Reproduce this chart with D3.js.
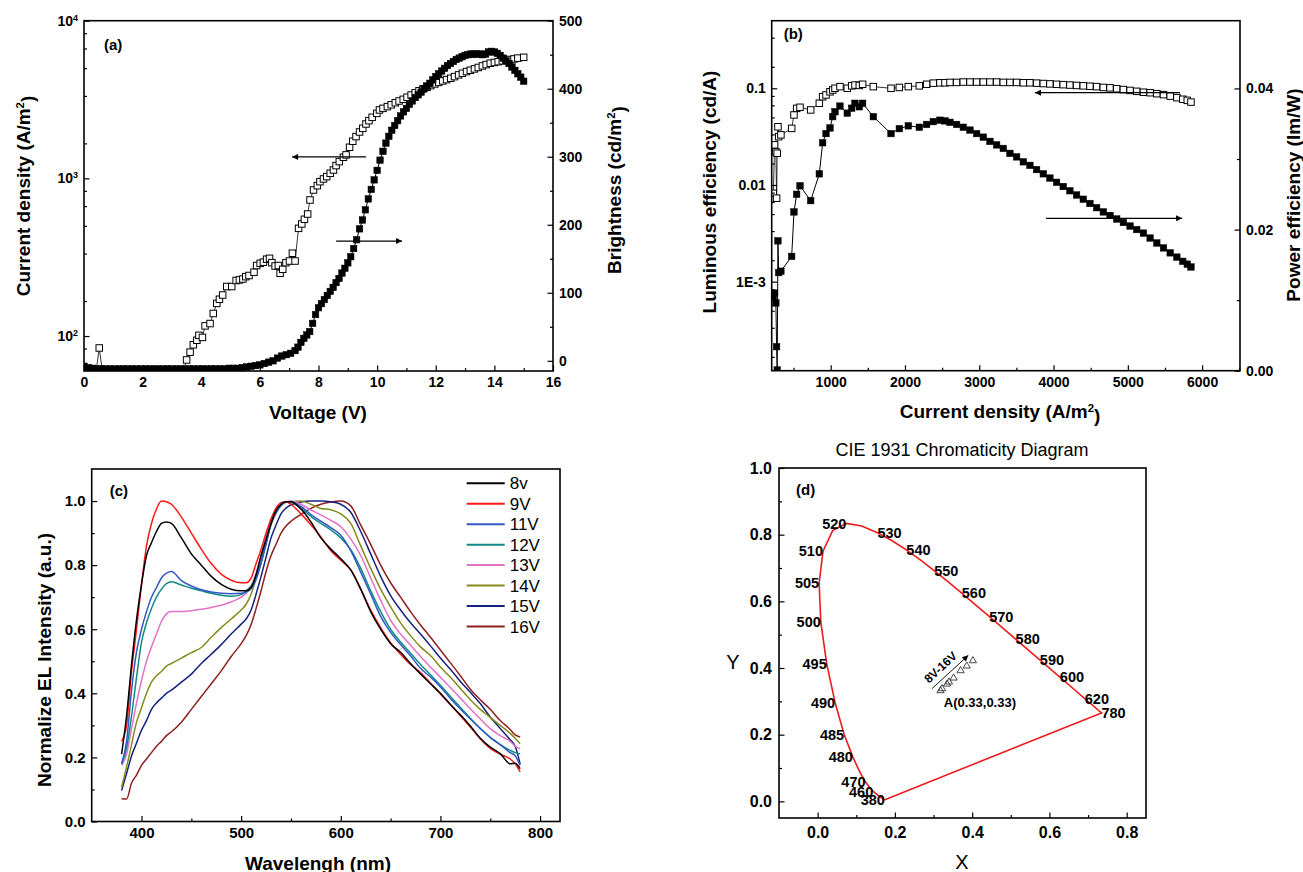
<!DOCTYPE html>
<html>
<head>
<meta charset="utf-8">
<script src="https://cdn.jsdelivr.net/npm/d3@7"></script>
<style>
  body { margin: 0; background: #fff; }
  svg { display: block; font-family: "Liberation Sans", Arial, sans-serif; }
</style>
</head>
<body>
<svg id="chart" width="1303" height="872"></svg>
<script>
// ---------- panel (a): current density / brightness vs voltage ----------
const voltJ = [0, 0.15, 0.3, 0.42, 0.52, 0.62, 0.75, 0.9, 1.05, 1.2, 1.35, 1.5, 1.65, 1.8, 1.95, 2.1, 2.25, 2.4, 2.55, 2.7, 2.85, 3.0, 3.15, 3.3, 3.4,
  3.5, 3.62, 3.73, 3.85, 3.92, 4.04, 4.13, 4.3, 4.41, 4.53, 4.62, 4.73, 4.87, 5.04, 5.19, 5.3, 5.42, 5.52, 5.63, 5.8,
  5.89, 6.01, 6.12, 6.23, 6.33, 6.41, 6.52, 6.63, 6.69, 6.78, 6.89, 7.01, 7.11, 7.2, 7.32, 7.43, 7.52, 7.63, 7.71, 7.83,
  7.96, 8.05, 8.17, 8.28, 8.4, 8.51, 8.6, 8.71, 8.85, 8.94, 9.06, 9.17, 9.28, 9.4, 9.51, 9.62, 9.72, 9.83, 9.99, 10.08,
  10.2, 10.35, 10.48, 10.62, 10.75, 10.89, 11.02, 11.16, 11.3, 11.43, 11.56, 11.7, 11.83, 11.97, 12.1, 12.24, 12.37, 12.51, 12.64, 12.78,
  12.91, 13.05, 13.18, 13.32, 13.45, 13.59, 13.72, 13.86, 14.0, 14.13, 14.27, 14.4, 14.53, 14.67, 14.8, 15.0];
const currentJ = [61, 61, 61, 61, 84, 61, 61, 61, 61, 61, 61, 61, 61, 61, 61, 61, 61, 61, 61, 61, 61, 61, 61, 61, 61,
  70.5, 79, 88, 94, 101, 98, 116, 120, 139, 161, 171, 182, 206, 206, 225, 227, 230, 238, 242, 254,
  280, 289, 294, 307, 311, 292, 278, 280, 250, 265, 292, 299, 335, 299, 482, 514, 550, 594, 729, 844,
  899, 953, 991, 1026, 1077, 1130, 1205, 1277, 1361, 1409, 1575, 1720, 1841, 1969, 2077, 2213, 2323, 2438, 2584, 2716,
  2780, 2851, 2930, 3020, 3095, 3171, 3270, 3378, 3490, 3597, 3690, 3782, 3875, 3971, 4060, 4150, 4230, 4315, 4420, 4531,
  4640, 4758, 4850, 4946, 5050, 5167, 5270, 5372, 5435, 5498, 5565, 5632, 5675, 5720, 5790, 5860];

const voltL = [0, 0.15, 0.3, 0.45, 0.6, 0.75, 0.9, 1.05, 1.2, 1.35, 1.5, 1.65, 1.8, 1.95, 2.1, 2.25, 2.4, 2.55, 2.7, 2.85,
  3.0, 3.15, 3.3, 3.45, 3.6, 3.75, 3.9, 4.05, 4.2, 4.35, 4.5, 4.65, 4.8, 4.95, 5.1, 5.25,
  5.4, 5.55, 5.7, 5.85, 6.0, 6.15, 6.3, 6.45, 6.6, 6.75, 6.9, 7.05, 7.2, 7.3, 7.4, 7.5, 7.6, 7.7, 7.8, 7.9,
  8.0, 8.1, 8.2, 8.3, 8.4, 8.5, 8.6, 8.7, 8.8, 8.9, 9.0, 9.1, 9.2, 9.3, 9.4, 9.5, 9.6, 9.7, 9.8, 9.9,
  10.0, 10.1, 10.2, 10.3, 10.4, 10.5, 10.6, 10.7, 10.8, 10.9, 11.0, 11.1, 11.2, 11.3, 11.4, 11.5, 11.6, 11.7, 11.8, 11.9,
  12.0, 12.1, 12.2, 12.3, 12.4, 12.5, 12.6, 12.7, 12.8, 12.9, 13.0, 13.1, 13.2, 13.3, 13.4, 13.5, 13.6, 13.7, 13.8, 13.9,
  14.0, 14.1, 14.2, 14.3, 14.4, 14.5, 14.6, 14.7, 14.8, 14.9, 15.0];
const brightness = [-8, -10, -11, -12, -12, -12, -12, -12, -12, -12, -12, -12, -12, -12, -12, -12, -12, -12, -12, -12,
  -12, -12, -12, -12, -12, -12, -12, -12, -12, -12, -12, -12, -12, -11, -11, -11,
  -10, -9, -8, -7, -6, -4, -2, 0, 4, 7, 9, 11, 15, 20, 27, 33, 38, 43, 55, 68,
  78, 84, 90, 96, 102, 108, 115, 121, 129, 136, 144, 153, 165, 178, 194, 207, 222, 238, 252, 266,
  280, 295, 308, 320, 330, 339, 346, 353, 360, 366, 371, 377, 382, 387, 391, 395, 400, 404, 408, 413,
  418, 422, 426, 430, 434, 437, 440, 443, 445, 447, 449, 450, 451, 451, 451, 451, 450, 451, 454, 455,
  454, 452, 449, 445, 441, 437, 432, 427, 422, 417, 411];

// ---------- panel (b): efficiencies vs current density ----------
const effJ = [228, 245, 262, 272, 280, 290, 300, 330, 475, 506, 542, 587, 731, 847, 892, 937, 991, 1027,
  1058, 1125, 1223, 1283, 1327, 1385, 1430, 1574, 1812, 1924, 2045, 2193, 2292, 2381, 2471, 2538, 2606, 2695, 2785, 2875,
  2965, 3054, 3144, 3234, 3323, 3413, 3503, 3593, 3682, 3772, 3862, 3951, 4041, 4130, 4220, 4310, 4400, 4490, 4580, 4670,
  4760, 4850, 4940, 5030, 5120, 5210, 5300, 5390, 5480, 5570, 5660, 5740, 5800, 5850];
const lumEff = [0.0082, 0.026, 0.022, 0.0073, 0.0213, 0.040, 0.0316, 0.033, 0.0385, 0.053, 0.062, 0.0636, 0.0597, 0.070, 0.0818, 0.0853, 0.092, 0.096,
  0.100, 0.104, 0.100, 0.106, 0.108, 0.107, 0.110, 0.104, 0.100, 0.102, 0.104, 0.106, 0.110, 0.113, 0.114, 0.114, 0.115, 0.115, 0.116, 0.116,
  0.116, 0.116, 0.116, 0.116, 0.115, 0.115, 0.115, 0.114, 0.114, 0.113, 0.112, 0.111, 0.110, 0.109, 0.108, 0.107, 0.106, 0.105, 0.104, 0.102,
  0.101, 0.099, 0.097, 0.095, 0.093, 0.091, 0.090, 0.088, 0.086, 0.083, 0.080, 0.077, 0.075, 0.072];
const powEff = [0.0105, 0.0110, 0.0096, 0.0034, 0.0001, 0.0184, 0.0139, 0.0141, 0.0162, 0.0225, 0.0250, 0.0262, 0.0241, 0.0279, 0.0323, 0.0336, 0.0344, 0.0360,
  0.0367, 0.0375, 0.0365, 0.0372, 0.0379, 0.0374, 0.0379, 0.0360, 0.0336, 0.0343, 0.0347, 0.0345, 0.0349, 0.0353, 0.0355, 0.0354, 0.0352, 0.0349, 0.0345, 0.0341,
  0.0336, 0.0331, 0.0325, 0.0320, 0.0315, 0.0308, 0.0303, 0.0296, 0.0291, 0.0285, 0.0279, 0.0273, 0.0267, 0.0261, 0.0255, 0.0249, 0.0243, 0.0237, 0.0231, 0.0225,
  0.0220, 0.0215, 0.0210, 0.0205, 0.0200, 0.0195, 0.0188, 0.0181, 0.0174, 0.0167, 0.0161, 0.0155, 0.0151, 0.0147];

// ---------- panel (c): normalised EL spectra ----------
const wavelength = [380, 385, 390, 395, 400, 405, 410, 415, 420, 425, 430, 440, 450, 460, 470, 480, 490, 500,
  505, 510, 515, 520, 525, 530, 535, 540, 545, 550, 560, 570, 580, 590, 600, 610, 620, 630, 640, 650, 660, 670,
  680, 690, 700, 710, 720, 730, 740, 750, 760, 770, 775, 780];
const el8 = [0.21, 0.33, 0.49, 0.63, 0.74, 0.83, 0.87, 0.905, 0.93, 0.935, 0.93, 0.885, 0.835, 0.80, 0.765, 0.74, 0.725, 0.72,
  0.72, 0.73, 0.77, 0.83, 0.88, 0.93, 0.97, 0.99, 0.998, 0.998, 0.975, 0.935, 0.885, 0.85, 0.82, 0.785, 0.725, 0.655, 0.60, 0.555, 0.528, 0.493,
  0.46, 0.43, 0.40, 0.365, 0.333, 0.298, 0.26, 0.232, 0.212, 0.18, 0.182, 0.165];
const el9 = [0.25, 0.30, 0.47, 0.60, 0.74, 0.86, 0.93, 0.975, 1.0, 0.998, 0.99, 0.95, 0.90, 0.85, 0.805, 0.772, 0.753, 0.745,
  0.745, 0.76, 0.805, 0.85, 0.90, 0.945, 0.978, 0.995, 0.998, 0.99, 0.96, 0.926, 0.888, 0.845, 0.815, 0.785, 0.725, 0.66, 0.605, 0.558, 0.522, 0.49,
  0.465, 0.432, 0.398, 0.365, 0.33, 0.295, 0.258, 0.228, 0.21, 0.195, 0.18, 0.155];
const el11 = [0.18, 0.25, 0.41, 0.53, 0.60, 0.655, 0.70, 0.73, 0.76, 0.775, 0.78, 0.752, 0.735, 0.723, 0.716, 0.712, 0.711, 0.712,
  0.716, 0.727, 0.755, 0.805, 0.865, 0.93, 0.963, 0.986, 0.997, 0.998, 0.983, 0.958, 0.937, 0.917, 0.893, 0.845, 0.778, 0.71, 0.64, 0.59, 0.552, 0.517,
  0.478, 0.451, 0.42, 0.384, 0.351, 0.32, 0.29, 0.263, 0.24, 0.215, 0.205, 0.175];
const el12 = [0.18, 0.23, 0.33, 0.45, 0.56, 0.62, 0.665, 0.70, 0.725, 0.742, 0.748, 0.738, 0.728, 0.72, 0.712, 0.706, 0.703, 0.708,
  0.72, 0.735, 0.76, 0.81, 0.87, 0.93, 0.97, 0.99, 0.998, 0.995, 0.978, 0.952, 0.93, 0.91, 0.885, 0.848, 0.79, 0.72, 0.655, 0.60, 0.56, 0.525,
  0.49, 0.458, 0.425, 0.39, 0.356, 0.322, 0.29, 0.262, 0.24, 0.222, 0.215, 0.211];
const el13 = [0.175, 0.21, 0.29, 0.37, 0.44, 0.50, 0.545, 0.585, 0.625, 0.648, 0.655, 0.655, 0.658, 0.662, 0.668, 0.675, 0.685, 0.70,
  0.712, 0.735, 0.775, 0.83, 0.89, 0.94, 0.975, 0.99, 0.998, 1.0, 0.99, 0.972, 0.957, 0.94, 0.92, 0.882, 0.83, 0.76, 0.69, 0.628, 0.585, 0.55,
  0.515, 0.482, 0.45, 0.418, 0.385, 0.352, 0.32, 0.29, 0.268, 0.25, 0.235, 0.227];
const el14 = [0.107, 0.17, 0.24, 0.31, 0.355, 0.40, 0.435, 0.455, 0.468, 0.485, 0.493, 0.51, 0.527, 0.543, 0.575, 0.605, 0.632, 0.66,
  0.678, 0.71, 0.76, 0.81, 0.87, 0.925, 0.962, 0.985, 0.996, 0.998, 1.0, 0.99, 0.977, 0.973, 0.96, 0.93, 0.86, 0.79, 0.725, 0.67, 0.62, 0.58,
  0.545, 0.518, 0.482, 0.45, 0.415, 0.38, 0.35, 0.325, 0.30, 0.275, 0.26, 0.243];
const el15 = [0.097, 0.15, 0.205, 0.245, 0.285, 0.315, 0.35, 0.37, 0.385, 0.40, 0.41, 0.435, 0.46, 0.493, 0.522, 0.552, 0.585, 0.616,
  0.632, 0.66, 0.71, 0.765, 0.825, 0.885, 0.925, 0.96, 0.978, 0.988, 0.997, 1.0, 1.0, 0.998, 0.99, 0.965, 0.905, 0.835, 0.765, 0.705, 0.66, 0.62,
  0.585, 0.548, 0.51, 0.475, 0.437, 0.403, 0.368, 0.326, 0.29, 0.255, 0.235, 0.18];
const el16 = [0.071, 0.07, 0.12, 0.145, 0.175, 0.195, 0.215, 0.235, 0.25, 0.268, 0.28, 0.31, 0.35, 0.39, 0.43, 0.47, 0.515, 0.555,
  0.58, 0.615, 0.665, 0.72, 0.78, 0.83, 0.865, 0.9, 0.922, 0.937, 0.958, 0.977, 0.99, 0.997, 1.0, 0.985, 0.925, 0.865, 0.80, 0.745, 0.70, 0.655,
  0.613, 0.575, 0.535, 0.495, 0.455, 0.413, 0.38, 0.35, 0.315, 0.287, 0.27, 0.264];
const elNames = ["8v", "9V", "11V", "12V", "13V", "14V", "15V", "16V"];
const elSeries = [el8, el9, el11, el12, el13, el14, el15, el16];
const elColors = ["#000000", "#ff1a1a", "#3158c4", "#0f8a84", "#e272c9", "#858a1c", "#16237e", "#8e1f1f"];

// ---------- panel (d): CIE 1931 diagram ----------
const locusWl = [380, 400, 420, 440, 450, 460, 465, 470, 475, 480, 485, 490, 495, 500, 505, 510, 515, 520, 525, 530, 535, 540,
  545, 550, 555, 560, 565, 570, 575, 580, 585, 590, 595, 600, 610, 620, 630, 640, 650, 660, 680, 700, 780];
const locusX = [0.1741, 0.1733, 0.1714, 0.1644, 0.1566, 0.1440, 0.1355, 0.1241, 0.1096, 0.0913, 0.0687, 0.0454, 0.0235, 0.0082, 0.0039, 0.0139, 0.0389, 0.0743, 0.1142, 0.1547, 0.1929, 0.2296,
  0.2658, 0.3016, 0.3373, 0.3731, 0.4087, 0.4441, 0.4788, 0.5125, 0.5448, 0.5752, 0.6029, 0.6270, 0.6658, 0.6915, 0.7079, 0.7190, 0.7260, 0.7300, 0.7334, 0.7347, 0.7347];
const locusY = [0.0050, 0.0048, 0.0051, 0.0109, 0.0177, 0.0297, 0.0399, 0.0578, 0.0868, 0.1327, 0.2007, 0.2950, 0.4127, 0.5384, 0.6548, 0.7502, 0.8120, 0.8338, 0.8262, 0.8059, 0.7816, 0.7543,
  0.7243, 0.6923, 0.6589, 0.6245, 0.5896, 0.5547, 0.5202, 0.4866, 0.4544, 0.4242, 0.3965, 0.3725, 0.3340, 0.3083, 0.2920, 0.2809, 0.2740, 0.2700, 0.2666, 0.2653, 0.2653];
const labelWl = [380, 460, 470, 480, 485, 490, 495, 500, 505, 510, 520, 530, 540, 550, 560, 570, 580, 590, 600, 620, 780];
const devX = [0.318, 0.322, 0.335, 0.340, 0.352, 0.370, 0.386, 0.402];
const devY = [0.332, 0.338, 0.352, 0.358, 0.370, 0.392, 0.406, 0.422];

// ---------- helpers ----------
const svg = d3.select("#chart");
svg.append("rect").attr("width", 1303).attr("height", 872).attr("fill", "#fff");

const defs = svg.append("defs");
defs.append("marker").attr("id", "arrow").attr("viewBox", "0 0 10 10")
  .attr("refX", 10).attr("refY", 5).attr("markerWidth", 9).attr("markerHeight", 6)
  .attr("markerUnits", "userSpaceOnUse").attr("orient", "auto")
  .append("path").attr("d", "M0,0L10,5L0,10Z").attr("fill", "#000");

function makePanel(box, id) {
  defs.append("clipPath").attr("id", id).append("rect").attr("width", box.w).attr("height", box.h);
  return svg.append("g").attr("transform", `translate(${box.x},${box.y})`);
}

function frame(g, box) {
  g.append("rect").attr("width", box.w).attr("height", box.h)
    .attr("fill", "none").attr("stroke", "#000").attr("stroke-width", 1.6);
}

function axis(g, make, scale, pos, major, minor, fmt, size, pad) {
  const t = (make === d3.axisBottom) ? `translate(0,${pos})` : `translate(${pos},0)`;
  if (minor.length) {
    g.append("g").attr("transform", t)
      .call(make(scale).tickValues(minor).tickSize(-3).tickFormat(""))
      .call(s => s.select(".domain").remove())
      .selectAll("line").attr("stroke-width", 1.2);
  }
  const a = g.append("g").attr("transform", t)
    .call(make(scale).tickValues(major).tickSize(-5.5).tickPadding(pad).tickFormat(fmt));
  a.select(".domain").remove();
  a.selectAll("line").attr("stroke-width", 1.2);
  a.selectAll("text").attr("font-family", "Liberation Sans, Arial, sans-serif")
    .attr("font-size", size).attr("font-weight", "bold").attr("fill", "#000");
  return a;
}

// Origin-style minor ticks on a log axis: k/6 of the next decade
function logMinor(lo, hi) {
  const out = [];
  for (let e = Math.floor(Math.log10(lo)); e < Math.ceil(Math.log10(hi)); e++) {
    for (let k = 1; k <= 5; k++) {
      const v = Math.pow(10, e + 1) * k / 6;
      if (v > Math.pow(10, e) && v > lo && v < hi) out.push(v);
    }
  }
  return out;
}

function title(x, y, rot, parts, size, weight) {
  const t = svg.append("text")
    .attr("transform", `translate(${x},${y}) rotate(${rot})`)
    .attr("text-anchor", "middle").attr("font-size", size)
    .attr("font-weight", weight).attr("fill", "#000");
  let up = false;
  parts.forEach(p => {
    const sup = p.startsWith("^");
    const s = t.append("tspan").text(sup ? p.slice(1) : p);
    if (sup) { s.attr("dy", "-0.55em").attr("font-size", size * 0.6); up = true; }
    else if (up) { s.attr("dy", "0.55em"); up = false; }
  });
  return t;
}

function squares(g, pts, x, y, filled, size) {
  g.selectAll(null).data(pts).join("rect")
    .attr("x", d => x(d[0]) - size / 2).attr("y", d => y(d[1]) - size / 2)
    .attr("width", size).attr("height", size)
    .attr("fill", filled ? "#000" : "#fff")
    .attr("stroke", "#000").attr("stroke-width", filled ? 0.5 : 1);
}

function arrow(g, x1, y1, x2, y2) {
  g.append("line").attr("x1", x1).attr("y1", y1).attr("x2", x2).attr("y2", y2)
    .attr("stroke", "#000").attr("stroke-width", 1.2).attr("marker-end", "url(#arrow)");
}

function tag(g, x, y, txt) {
  g.append("text").attr("x", x).attr("y", y).attr("font-size", 15)
    .attr("font-weight", "bold").text(txt);
}

// ---------- panel (a) ----------
const boxA = {x: 84, y: 20.7, w: 469, h: 350.3};
const gA = makePanel(boxA, "clipA");
const xA = d3.scaleLinear().domain([0, 16]).range([0, boxA.w]);
const yAL = d3.scaleLog().domain([60, 10000]).range([boxA.h, 0]);
const yAR = d3.scaleLinear().domain([-15, 500]).range([boxA.h, 0]);

const ptsJ = voltJ.map((v, i) => [v, currentJ[i]]);
const ptsL = voltL.map((v, i) => [v, brightness[i]]);
const plotA = gA.append("g").attr("clip-path", "url(#clipA)");
plotA.append("path").datum(ptsJ).attr("fill", "none").attr("stroke", "#000").attr("stroke-width", 0.8)
  .attr("d", d3.line().x(d => xA(d[0])).y(d => yAL(d[1])));
squares(plotA, ptsJ, xA, yAL, false, 6.5);
plotA.append("path").datum(ptsL).attr("fill", "none").attr("stroke", "#000").attr("stroke-width", 1)
  .attr("d", d3.line().x(d => xA(d[0])).y(d => yAR(d[1])));
squares(plotA, ptsL, xA, yAR, true, 6.5);

arrow(gA, xA(9.62), yAL(1368), xA(7.1), yAL(1368));
arrow(gA, xA(8.6), yAR(176), xA(10.85), yAR(176));

axis(gA, d3.axisBottom, xA, boxA.h, d3.range(0, 17, 2), d3.range(1, 16, 2), d3.format("d"), 14, 6);
const aAL = axis(gA, d3.axisLeft, yAL, 0, [100, 1000, 10000], logMinor(60, 10000), () => "", 14, 6);
aAL.selectAll(".tick text").each(function (d) {
  const t = d3.select(this);
  t.append("tspan").text("10");
  t.append("tspan").attr("dy", "-0.55em").attr("font-size", 9).text(Math.round(Math.log10(d)));
});
axis(gA, d3.axisRight, yAR, boxA.w, d3.range(0, 501, 100), d3.range(50, 500, 100), d3.format("d"), 14, 6);
frame(gA, boxA);
tag(gA, 20, 29, "(a)");

title(30, 196, -90, ["Current density (A/m", "^2", ")"], 19, "bold");
title(621, 190, -90, ["Brightness (cd/m", "^2", ")"], 19, "bold");
title(318, 419, 0, ["Voltage (V)"], 19, "bold");

// ---------- panel (b) ----------
const boxB = {x: 771.7, y: 20.7, w: 468.3, h: 350};
const gB = makePanel(boxB, "clipB");
const xB = d3.scaleLinear().domain([206, 6510]).range([0, boxB.w]);
const yBL = d3.scaleLog().domain([1.2e-4, 0.5]).range([boxB.h, 0]);
const yBR = d3.scaleLinear().domain([0, 0.0496]).range([boxB.h, 0]);

const ptsLE = effJ.map((v, i) => [v, lumEff[i]]);
const ptsPE = effJ.map((v, i) => [v, powEff[i]]);
const plotB = gB.append("g").attr("clip-path", "url(#clipB)");
plotB.append("path").datum(ptsLE).attr("fill", "none").attr("stroke", "#000").attr("stroke-width", 0.8)
  .attr("d", d3.line().x(d => xB(d[0])).y(d => yBL(d[1])));
squares(plotB, ptsLE, xB, yBL, false, 6.5);
plotB.append("path").datum(ptsPE).attr("fill", "none").attr("stroke", "#000").attr("stroke-width", 1)
  .attr("d", d3.line().x(d => xB(d[0])).y(d => yBR(d[1])));
squares(plotB, ptsPE, xB, yBR, true, 6.5);

arrow(gB, xB(5702), yBL(0.09), xB(3750), yBL(0.09));
arrow(gB, xB(3899), yBR(0.0216), xB(5730), yBR(0.0216));

axis(gB, d3.axisBottom, xB, boxB.h, d3.range(1000, 6001, 1000), d3.range(500, 6501, 1000), d3.format("d"), 14, 6);
axis(gB, d3.axisLeft, yBL, 0, [0.001, 0.01, 0.1], logMinor(1.2e-4, 0.5),
  d => d === 0.001 ? "1E-3" : String(d), 14, 6);
axis(gB, d3.axisRight, yBR, boxB.w, [0, 0.02, 0.04], [0.01, 0.03], d3.format(".2f"), 14, 6);
frame(gB, boxB);
tag(gB, 12, 18, "(b)");

title(716, 192, -90, ["Luminous efficiency (cd/A)"], 19, "bold");
title(1300, 195, -90, ["Power efficiency (lm/W)"], 19, "bold");
title(1000, 418, 0, ["Current density (A/m", "^2", ")"], 19, "bold");

// ---------- panel (c) ----------
const boxC = {x: 91.7, y: 469, w: 468.3, h: 352.5};
const gC = makePanel(boxC, "clipC");
const xC = d3.scaleLinear().domain([350, 820]).range([0, boxC.w]);
const yC = d3.scaleLinear().domain([0, 1.1]).range([boxC.h, 0]);
const plotC = gC.append("g").attr("clip-path", "url(#clipC)");
const lineC = d3.line().x((d, i) => xC(wavelength[i])).y(d => yC(d)).curve(d3.curveMonotoneX);
elSeries.slice().reverse().forEach((s, k) => {
  const i = elSeries.length - 1 - k;
  plotC.append("path").datum(s).attr("fill", "none").attr("stroke", elColors[i])
    .attr("stroke-width", 1.5).attr("d", lineC);
});
axis(gC, d3.axisBottom, xC, boxC.h, d3.range(400, 801, 100), d3.range(450, 800, 100), d3.format("d"), 15, 6);
axis(gC, d3.axisLeft, yC, 0, d3.range(0, 1.01, 0.2), d3.range(0.1, 1.1, 0.2), d3.format(".1f"), 15, 6);
frame(gC, boxC);
tag(gC, 18, 27, "(c)");

const legC = gC.append("g").attr("transform", "translate(375,14.3)");
elNames.forEach((n, i) => {
  legC.append("line").attr("x1", 0).attr("x2", 38).attr("y1", i * 20.45).attr("y2", i * 20.45)
    .attr("stroke", elColors[i]).attr("stroke-width", 2);
  legC.append("text").attr("x", 43).attr("y", i * 20.45).attr("dy", "0.36em")
    .attr("font-size", 17).attr("fill", "#000").text(n);
});

title(51, 660, -90, ["Normalize EL Intensity (a.u.)"], 19, "bold");
title(318, 870, 0, ["Wavelengh (nm)"], 19, "bold");

// ---------- panel (d) ----------
const boxD = {x: 779, y: 468, w: 367, h: 350};
const gD = makePanel(boxD, "clipD");
const xD = d3.scaleLinear().domain([-0.1, 0.85]).range([0, boxD.w]);
const yD = d3.scaleLinear().domain([-0.05, 1.0]).range([boxD.h, 0]);
const locus = locusX.map((v, i) => [v, locusY[i]]);
gD.append("path").datum(locus).attr("fill", "none").attr("stroke", "#f01c1c").attr("stroke-width", 1.6)
  .attr("d", d3.line().x(d => xD(d[0])).y(d => yD(d[1])).curve(d3.curveLinearClosed));

labelWl.forEach(w => {
  const i = locusWl.indexOf(w);
  const left = w <= 520;
  gD.append("text").attr("x", xD(locusX[i])).attr("y", yD(locusY[i])).attr("dy", "0.36em")
    .attr("text-anchor", left ? "end" : "start").attr("font-size", 14.5).attr("font-weight", "bold")
    .attr("fill", "#000").text(w);
});

gD.selectAll(null).data(devX.map((v, i) => [v, devY[i]])).join("path")
  .attr("transform", d => `translate(${xD(d[0])},${yD(d[1])})`)
  .attr("d", d3.symbol(d3.symbolTriangle, 22)).attr("fill", "none")
  .attr("stroke", "#333").attr("stroke-width", 0.9);

gD.append("line").attr("x1", xD(0.296)).attr("y1", yD(0.338)).attr("x2", xD(0.390)).attr("y2", yD(0.438))
  .attr("stroke", "#000").attr("stroke-width", 0.9).attr("marker-end", "url(#arrow)");
gD.append("text").attr("transform", `translate(${xD(0.318)},${yD(0.402)}) rotate(-43)`)
  .attr("text-anchor", "middle").attr("dy", "0.35em").attr("font-size", 12).attr("font-weight", "bold")
  .text("8V-16V");
gD.append("text").attr("x", xD(0.420)).attr("y", yD(0.296)).attr("dy", "0.36em")
  .attr("text-anchor", "middle").attr("font-size", 13).attr("font-weight", "bold").text("A(0.33,0.33)");

axis(gD, d3.axisBottom, xD, boxD.h, d3.range(0, 0.81, 0.2), [0.1, 0.3, 0.5, 0.7], d3.format(".1f"), 16, 9);
axis(gD, d3.axisLeft, yD, 0, d3.range(0, 1.01, 0.2), [0.1, 0.3, 0.5, 0.7, 0.9], d3.format(".1f"), 16, 7);
frame(gD, boxD);
tag(gD, 17, 27, "(d)");

title(962, 456, 0, ["CIE 1931 Chromaticity Diagram"], 18, "normal");
title(733, 669, 0, ["Y"], 20, "normal");
title(962, 869, 0, ["X"], 20, "normal");
</script>
</body>
</html>
